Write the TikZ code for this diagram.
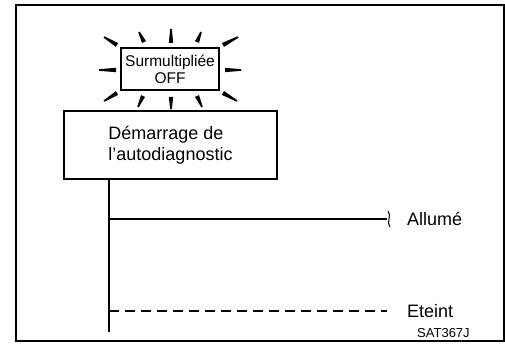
\documentclass[tikz,border=0pt]{standalone}
\usepackage{fontspec}
\setmainfont{Liberation Sans}
\usetikzlibrary{calc}
\begin{document}
\begin{tikzpicture}[x=1pt,y=-1pt,
        box/.style={draw,line width=1.2pt,inner sep=0pt},
        lbl/.style={font=\fontsize{18}{21}\selectfont,anchor=west,inner sep=0pt},
        trunk/.style={line width=1.6pt}]
    \useasboundingbox (0,0) rectangle (505,350);
    % frame
    \draw[line width=1.8pt] (16,5) rectangle (504,341);
    % flashing lamp
    \node[box,minimum width=98,minimum height=42,align=center,
          font=\fontsize{15.5}{17}\selectfont] (lamp) at (170,69) {Surmultipliée\\OFF};
    \foreach \ox/\oy/\ix/\iy in {104/37/117/45,139/32/144/42,171/29/171/43,201/32/197/42,238/37/223/45,
                                99/70/116/70,241/70/225/70,
                                104/101/117/93,138/107/143/96,171/109/171/97,202/107/197/96,237/101/223/93}
        \fill ($(\ix,\iy)!2.2pt!90:(\ox,\oy)$) -- ($(\ix,\iy)!2.2pt!-90:(\ox,\oy)$)
            -- ($(\ox,\oy)!0.8pt!90:(\ix,\iy)$) -- ($(\ox,\oy)!0.8pt!-90:(\ix,\iy)$) -- cycle;
    % start box
    \node[box,minimum width=213,minimum height=68,align=left,
          font=\fontsize{18}{21}\selectfont] (start) at (170.5,145) {Démarrage de\\l’autodiagnostic};
    % trunk and branches
    \coordinate (trunktop) at (109,179);
    \coordinate (trunkend) at (109,332);
    \coordinate (onfork) at (109,219);
    \coordinate (onend) at (387,219);
    \coordinate (offfork) at (109,311);
    \coordinate (offend) at (387,311);
    \node[lbl] (allume) at (407,219) {Allumé};
    \node[lbl] (eteint) at (407,311) {Eteint};
    \node[font=\fontsize{13}{15}\selectfont,anchor=west,inner sep=0pt] (code) at (417,333) {SAT367J};
    \draw[trunk] (trunktop) -- (trunkend);
    \draw[trunk] (onfork) -- (onend);
    \draw[line width=1pt] ($(onend)+(1,-8)$) .. controls +(4,4) and +(-4,-4) .. ($(onend)+(3,8)$);
    \draw[trunk,dash pattern=on 10pt off 6pt] (offfork) -- (offend);
\end{tikzpicture}
\end{document}
